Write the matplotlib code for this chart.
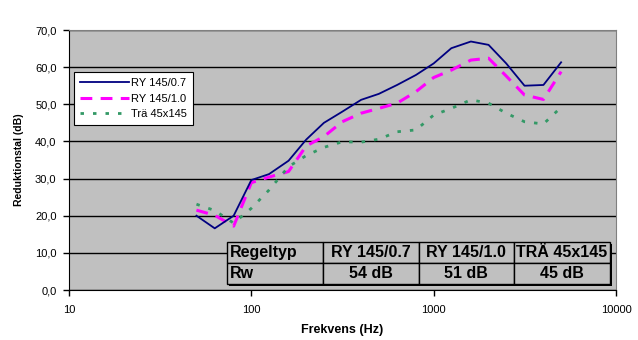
import numpy as np
import matplotlib
matplotlib.use("Agg")
import matplotlib.pyplot as plt
from matplotlib.ticker import FixedLocator, FuncFormatter, NullLocator
import matplotlib.patches as mpatches

plt.rcParams['font.family'] = ['Liberation Sans', 'DejaVu Sans']
plt.rcParams['lines.scale_dashes'] = False

# third-octave band centre frequencies (Hz)
freq = [50, 63, 80, 100, 125, 160, 200, 250, 315, 400, 500, 630, 800,
        1000, 1250, 1600, 2000, 2500, 3150, 4000, 5000]

ry_07 = [20.0, 16.6, 20.0, 29.6, 31.2, 34.8, 40.5, 45.0, 48.0, 51.2, 52.8,
         55.2, 57.9, 61.0, 65.1, 66.9, 66.0, 61.0, 55.0, 55.2, 61.3]
ry_10 = [21.5, 20.1, 17.2, 28.9, 30.4, 31.9, 38.8, 41.3, 45.3, 47.6, 48.9,
         50.3, 53.4, 57.2, 59.2, 61.9, 62.4, 57.6, 52.5, 51.3, 58.8]
tra = [23.1, 21.4, 18.0, 22.0, 26.9, 33.2, 36.2, 38.4, 39.9, 39.8, 40.6,
       42.6, 43.1, 47.1, 48.9, 51.2, 50.3, 47.6, 45.3, 44.7, 49.2]

series_names = ['RY 145/0.7', 'RY 145/1.0', 'Trä 45x145']

table_header = ['Regeltyp', 'RY 145/0.7', 'RY 145/1.0', 'TRÄ 45x145']
table_rw = ['Rw', '54 dB', '51 dB', '45 dB']

fig = plt.figure(figsize=(6.38, 3.40), dpi=100)
ax = fig.add_axes([69/638, 1 - 290/340, 547/638, 260/340])
ax.set_facecolor('#C0C0C0')

ax.plot(freq, ry_07, color='#000080', lw=1.3, label=series_names[0], zorder=4)
ax.plot(freq, ry_10, color='#FF00FF', lw=2.2, dashes=(8.5, 6),
        label=series_names[1], zorder=3)
ax.plot(freq, tra, color='#339966', lw=2.0, dashes=(2.5, 6.5),
        label=series_names[2], zorder=3)

ax.set_xscale('log')
ax.set_xlim(10, 10000)
ax.set_ylim(0, 70)
ax.xaxis.set_major_locator(FixedLocator([10, 100, 1000, 10000]))
ax.xaxis.set_minor_locator(NullLocator())
ax.xaxis.set_major_formatter(FuncFormatter(lambda v, p: '%d' % v))
ax.yaxis.set_major_locator(FixedLocator(np.arange(0, 71, 10)))
ax.yaxis.set_major_formatter(
    FuncFormatter(lambda v, p: ('%.1f' % v).replace('.', ',')))
ax.yaxis.grid(True, color='black', lw=1)
ax.set_axisbelow(True)
ax.tick_params(axis='both', labelsize=8, length=4, width=1,
               direction='out', color='black')
ax.tick_params(axis='y', pad=5)
ax.tick_params(axis='x', pad=7)

for side in ['top', 'right']:
    ax.spines[side].set_color('#808080')
for side in ['left', 'bottom']:
    ax.spines[side].set_color('black')

ax.set_ylabel('Reduktionstal (dB)', fontsize=7.5, fontweight='bold', labelpad=8)
ax.set_xlabel('Frekvens (Hz)', fontsize=9, fontweight='bold', labelpad=6)

leg = ax.legend(loc='upper left', bbox_to_anchor=(0.009, 0.838),
                borderaxespad=0, fontsize=8, handlelength=4.4,
                fancybox=False, framealpha=1, edgecolor='black',
                borderpad=0.55, labelspacing=0.5, handletextpad=0.2)
leg.get_frame().set_linewidth(0.8)
leg.set_zorder(6)

# Rw table inside the plot
bbox = [0.289, 0.023, 0.700, 0.160]
shadow = mpatches.Rectangle((bbox[0] + 0.004, bbox[1] - 0.008), bbox[2], bbox[3],
                            transform=ax.transAxes, facecolor='black',
                            zorder=5)
ax.add_patch(shadow)
tbl = ax.table(cellText=[table_header, table_rw], bbox=bbox,
               cellLoc='center')
tbl.set_zorder(6)
tbl.auto_set_font_size(False)
for (r, c), cell in tbl.get_celld().items():
    cell.set_facecolor('#C0C0C0')
    cell.set_edgecolor('black')
    cell.set_linewidth(1)
    cell.get_text().set_fontsize(11.5)
    cell.get_text().set_fontweight('bold')
    if c == 0:
        cell.get_text().set_ha('left')
        cell._loc = 'left'
        cell.PAD = 0.03

fig.savefig('out.png', dpi=100, facecolor='white')
